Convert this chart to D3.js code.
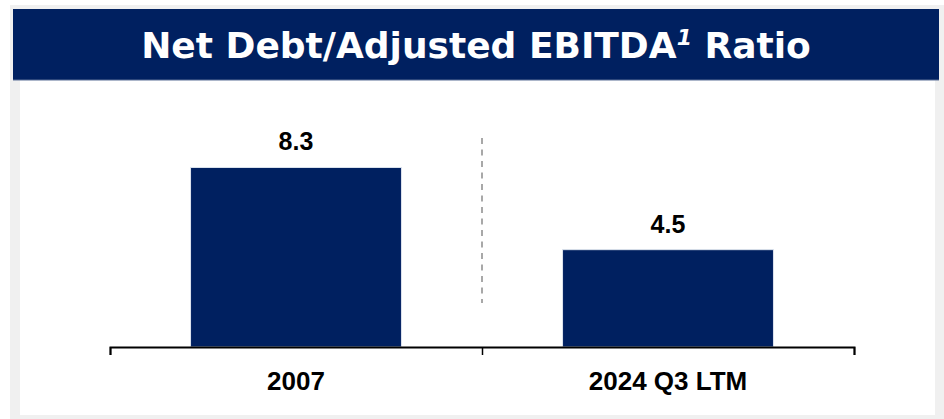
<!DOCTYPE html>
<html>
<head>
<meta charset="utf-8">
<script src="https://cdn.jsdelivr.net/npm/d3@7"></script>
<style>
  html, body { margin: 0; padding: 0; background: #ffffff; }
  svg { display: block; }
</style>
</head>
<body>
<svg id="chart" width="944" height="419"></svg>
<script>
// Net debt / adjusted EBITDA by period
const categories = ["2007", "2024 Q3 LTM"];
const ratios = [8.3, 4.5];
const valueLabels = ["8.3", "4.5"];

const navy = "#002060";
const svg = d3.select("#chart");

// Card frame: grey border with white body
svg.append("rect").attr("x", 10).attr("y", 5).attr("width", 934).attr("height", 414).attr("fill", "#f0f0f0");
svg.append("rect").attr("x", 20).attr("y", 9).attr("width", 915).attr("height", 406).attr("fill", "#ffffff");

// Title band
svg.append("rect").attr("x", 13).attr("y", 9).attr("width", 926).attr("height", 71).attr("fill", navy);
svg.append("line").attr("x1", 13).attr("x2", 939).attr("y1", 80).attr("y2", 80)
  .attr("stroke", "#5a6e96").attr("stroke-width", 1.2);

const title = svg.append("text")
  .attr("x", 476).attr("y", 58)
  .attr("text-anchor", "middle")
  .attr("fill", "#ffffff")
  .attr("font-family", "DejaVu Sans, Verdana, sans-serif")
  .attr("font-weight", "bold")
  .attr("font-size", 36);
title.append("tspan").text("Net Debt/Adjusted EBITDA");
title.append("tspan").text("1").attr("font-style", "italic").attr("font-size", 22).attr("dy", -13);
title.append("tspan").text(" Ratio").attr("dy", 13);

// Scales
const x = d3.scaleBand().domain(categories).range([110, 854]).paddingInner(0).paddingOuter(0);
const y = d3.scaleLinear().domain([0, 10]).range([347, 130.7]);
const barW = x.bandwidth() * 0.567;

// Divider between periods
svg.append("line")
  .attr("x1", x(categories[1])).attr("x2", x(categories[1]))
  .attr("y1", 138).attr("y2", 303)
  .attr("stroke", "#8c8c8c").attr("stroke-width", 1.5)
  .attr("stroke-dasharray", "6,5.5");

// Bars
svg.selectAll("rect.bar")
  .data(ratios)
  .join("rect")
  .attr("class", "bar")
  .attr("x", (d, i) => x(categories[i]) + (x.bandwidth() - barW) / 2)
  .attr("y", d => y(d))
  .attr("width", barW)
  .attr("height", d => y(0) - y(d))
  .attr("fill", navy)
  .attr("stroke", "#dde4ee")
  .attr("stroke-width", 1);

// Value labels
svg.selectAll("text.value")
  .data(ratios)
  .join("text")
  .attr("class", "value")
  .attr("x", (d, i) => x(categories[i]) + x.bandwidth() / 2)
  .attr("y", d => y(d) - 17)
  .attr("text-anchor", "middle")
  .attr("font-family", "Liberation Sans, Arial, sans-serif")
  .attr("font-weight", "bold")
  .attr("font-size", 25)
  .attr("fill", "#000000")
  .text((d, i) => valueLabels[i]);

// Category axis with ticks on the band boundaries
const edge = d3.scaleLinear().domain([0, categories.length]).range(x.range());
const axis = d3.axisBottom(edge)
  .tickValues(d3.range(categories.length + 1))
  .tickSizeInner(8).tickSizeOuter(8)
  .tickFormat("");
const gAxis = svg.append("g").attr("transform", `translate(0,${y(0)})`).call(axis);
gAxis.select(".domain").attr("stroke", "#000").attr("stroke-width", 2);
gAxis.selectAll(".tick line").attr("stroke", "#000").attr("stroke-width", 1.5);

svg.selectAll("text.cat")
  .data(categories)
  .join("text")
  .attr("class", "cat")
  .attr("x", d => x(d) + x.bandwidth() / 2)
  .attr("y", 390)
  .attr("text-anchor", "middle")
  .attr("font-family", "Liberation Sans, Arial, sans-serif")
  .attr("font-weight", "bold")
  .attr("font-size", 26)
  .attr("fill", "#000000")
  .text(d => d);
</script>
</body>
</html>
